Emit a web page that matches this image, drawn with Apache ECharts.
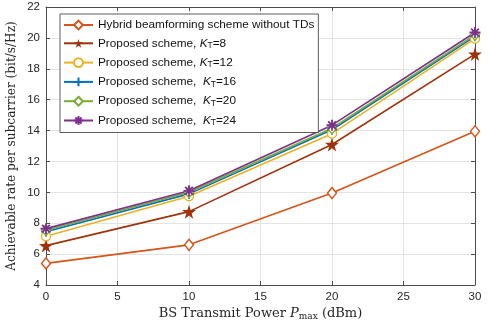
<!DOCTYPE html>
<html><head><meta charset="utf-8">
<script src="https://cdn.jsdelivr.net/npm/echarts@6/dist/echarts.min.js"></script>
<style>html,body{margin:0;padding:0;background:#fff}#c{width:490px;height:327px}</style>
</head><body><div id="c"></div>
<script>
const xValues = [0, 10, 20, 30];
const xTicks = [0, 5, 10, 15, 20, 25, 30];
const yTicks = [4, 6, 8, 10, 12, 14, 16, 18, 20, 22];
const hybrid = [5.4, 6.6, 9.95, 13.95];
const kt8 = [6.55, 8.75, 13.1, 18.95];
const kt12 = [7.15, 9.75, 13.8, 19.95];
const kt16 = [7.45, 9.9, 14.05, 20.1];
const kt20 = [7.55, 10.0, 14.15, 20.2];
const kt24 = [7.65, 10.1, 14.35, 20.35];
const names = ['Hybrid beamforming scheme without TDs','Proposed scheme, {i|K}{s|T}=8','Proposed scheme, {i|K}{s|T}=12','Proposed scheme,  {i|K}{s|T}=16','Proposed scheme,  {i|K}{s|T}=20','Proposed scheme,  {i|K}{s|T}=24'];

const star = 'path://M50,0 L61,35 L98,35 L68,57 L79,91 L50,70 L21,91 L32,57 L2,35 L39,35 Z';
const plus = 'path://M0,5 L10,5 M5,0 L5,10';
const aster = 'path://M0,5 L10,5 M5,0 L5,10 M1.5,1.5 L8.5,8.5 M8.5,1.5 L1.5,8.5';

function mk(name, data, color, symbol, size, fill, bw) {
  return {
    name, type: 'line', data: xValues.map((x, i) => [x, data[i]]),
    symbol, symbolSize: size, showAllSymbol: true,
    lineStyle: { color, width: 1.6 },
    itemStyle: { color: fill, borderColor: color, borderWidth: bw },
    emphasis: { disabled: true }, animation: false, z: 3
  };
}
const series = [
  mk(names[0], hybrid, '#D95319', 'diamond', [9, 11], '#fff', 1.4),
  mk(names[1], kt8, '#A0320A', star, 14, '#A0320A', 0),
  mk(names[2], kt12, '#EDB120', 'circle', 9, '#fff', 1.4),
  mk(names[3], kt16, '#0072BD', plus, 10, 'rgba(0,0,0,0)', 1.6),
  mk(names[4], kt20, '#77AC30', 'diamond', [9, 11], '#fff', 1.4),
  mk(names[5], kt24, '#7E2F8E', aster, 11, 'rgba(0,0,0,0)', 1.8),
];

const axisCol = '#4d4d4d';
const chart = echarts.init(document.getElementById('c'), null, { renderer: 'canvas' });
const baseX = {
  type: 'value', min: 0, max: 30, interval: 5,
  axisLine: { show: true, onZero: false, lineStyle: { color: axisCol, width: 1 } },
  axisTick: { show: true, inside: true, length: 4, lineStyle: { color: axisCol } },
  splitLine: { show: false }
};
const baseY = {
  type: 'value', min: 4, max: 22, interval: 2,
  axisLine: { show: true, onZero: false, lineStyle: { color: axisCol, width: 1 } },
  axisTick: { show: true, inside: true, length: 4, lineStyle: { color: axisCol } },
  splitLine: { show: false }
};
chart.setOption({
  animation: false,
  grid: { left: 46, right: 15, top: 7, bottom: 42, containLabel: false, outerBoundsMode: 'none' },
  legend: {
    orient: 'vertical', left: 60, top: 14, width: 257,
    data: names, itemWidth: 29, itemHeight: 11, itemGap: 6.3,
    backgroundColor: '#fff', borderColor: '#333', borderWidth: 0.8,
    padding: [5, 4, 5, 3],
    textStyle: {
      fontFamily: 'Liberation Sans', fontSize: 11.8, color: '#111',
      rich: {
        i: { fontFamily: 'Liberation Sans', fontStyle: 'italic', fontSize: 11.8, color: '#111' },
        s: { fontFamily: 'Liberation Sans', fontSize: 8.5, color: '#111', padding: [5, 0, 0, 0] }
      }
    },
    selectedMode: false
  },
  xAxis: [
    Object.assign({}, baseX, {
      position: 'bottom',
      splitLine: { show: true, lineStyle: { color: '#e3e3e3', width: 1 } },
      axisLabel: { color: '#262626', fontFamily: 'Liberation Sans', fontSize: 11.5, margin: 6 },
      name: 'BS Transmit Power {i|P}{sub|max} (dBm)', nameLocation: 'middle', nameGap: 21,
      nameMoveOverlap: false,
      nameTextStyle: {
        fontFamily: 'DejaVu Serif', fontSize: 13, color: '#262626',
        rich: {
          i: { fontFamily: 'DejaVu Serif', fontStyle: 'italic', fontSize: 13, color: '#262626' },
          sub: { fontFamily: 'DejaVu Serif', fontSize: 9, color: '#262626', padding: [6, 0, 0, 0] }
        }
      }
    }),
    Object.assign({}, baseX, { position: 'top', axisLabel: { show: false } })
  ],
  yAxis: [
    Object.assign({}, baseY, {
      position: 'left',
      splitLine: { show: true, lineStyle: { color: '#e3e3e3', width: 1 } },
      axisLabel: { color: '#262626', fontFamily: 'Liberation Sans', fontSize: 11.5, margin: 6 },
      name: 'Achievable rate per subcarrier (bit/s/Hz)', nameLocation: 'middle', nameGap: 28,
      nameMoveOverlap: false,
      nameTextStyle: { fontFamily: 'DejaVu Serif', fontSize: 12.1, color: '#262626' }
    }),
    Object.assign({}, baseY, { position: 'right', axisLabel: { show: false } })
  ],
  series
});
</script></body></html>
